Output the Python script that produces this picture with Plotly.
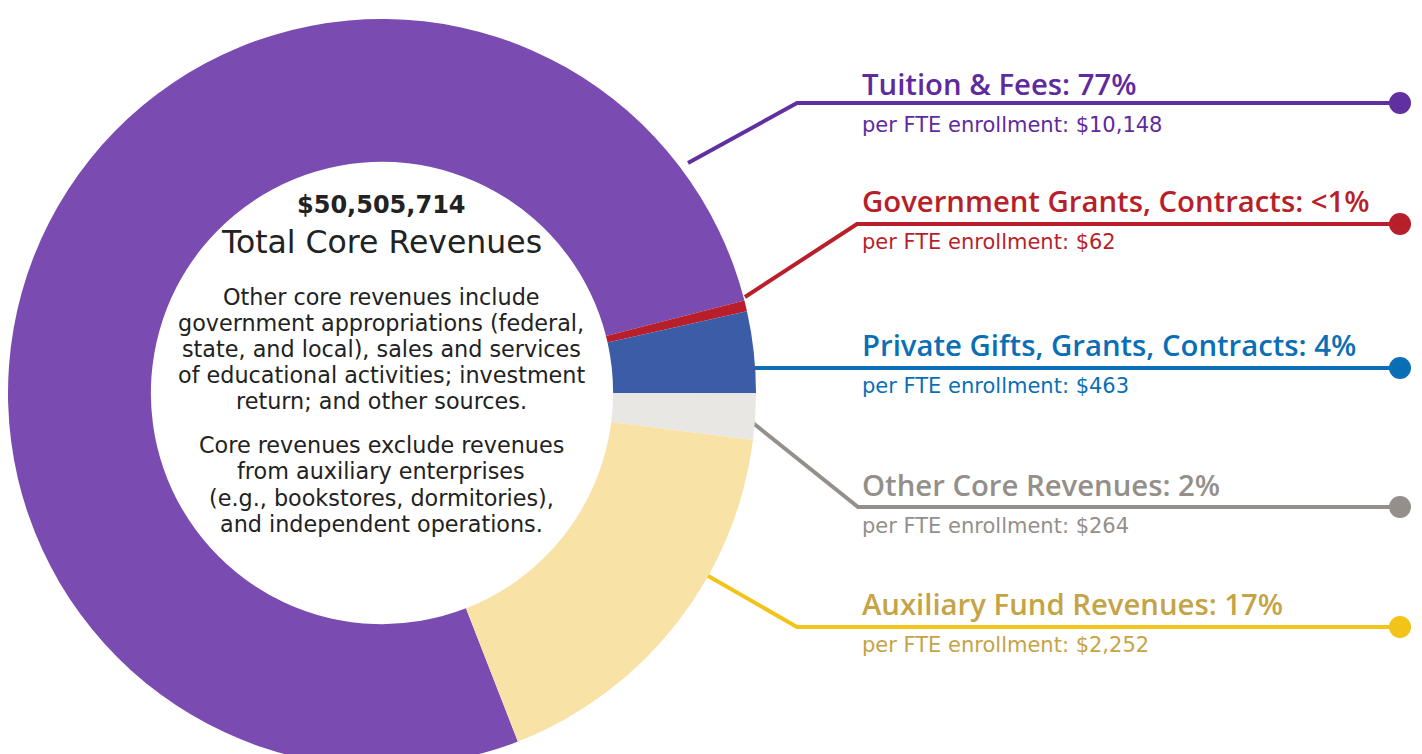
import plotly.graph_objects as go

# ---- data ----
categories = ["Tuition & Fees", "Government Grants, Contracts",
              "Private Gifts, Grants, Contracts", "Other Core Revenues",
              "Auxiliary Fund Revenues"]
per_fte = [10148, 62, 463, 264, 2252]
total_core = "$50,505,714"
para1 = ["Other core revenues include", "government appropriations (federal,",
         "state, and local), sales and services", "of educational activities; investment",
         "return; and other sources."]
para2 = ["Core revenues exclude revenues", "from auxiliary enterprises",
         "(e.g., bookstores, dormitories),", "and independent operations."]

slice_colors = ["#7a4bb0", "#b81f2b", "#3b5ca6", "#e9e7e4", "#f8e2a6"]
line_colors = ["#6030a0", "#b81f2b", "#0a6fb5", "#948f8a", "#f2c318"]
text_colors = ["#5f2a9e", "#b81f2b", "#0a6fb5", "#948f8a", "#c4a446"]

# leader line paths (layout positions, page pixel space)
leader_x = [[688, 797, 1400], [745, 857, 1400], [754, 1400], [753, 858, 1400], [703, 797, 1400]]
leader_y = [[163, 103, 103], [297, 224, 224], [368, 368], [423, 507, 507], [573, 627, 627]]
label_y = [84, 201, 345, 485, 604]

OFF = 8            # page body margin
W, H = 1422, 770
TITLE_FONT = "Open Sans"
BODY_FONT = "DejaVu Sans"

total = sum(per_fte)
pcts = []
for v in per_fte:
    p = v / total * 100
    pcts.append("<1%" if p < 1 else f"{round(p)}%")

fig = go.Figure()

fig.add_trace(go.Pie(
    values=per_fte, labels=categories, sort=False, direction="clockwise",
    rotation=158.7, hole=0.618, textinfo="none", hoverinfo="label+value",
    marker=dict(colors=slice_colors, line=dict(width=0)),
    domain=dict(x=[0, 748 / W], y=[0, 1]), showlegend=False,
))

for i in range(len(categories)):
    fig.add_trace(go.Scatter(
        x=leader_x[i], y=leader_y[i], mode="lines",
        line=dict(color=line_colors[i], width=4), hoverinfo="skip", showlegend=False,
    ))
    fig.add_trace(go.Scatter(
        x=[leader_x[i][-1]], y=[leader_y[i][-1]], mode="markers",
        marker=dict(color=line_colors[i], size=22), hoverinfo="skip", showlegend=False,
    ))

annotations = []
for i, cat in enumerate(categories):
    annotations.append(dict(
        x=860, y=label_y[i], xref="x", yref="y", xanchor="left", yanchor="middle",
        text=f"{cat}: {pcts[i]}", showarrow=False,
        font=dict(family=TITLE_FONT, size=29.3, color=text_colors[i], weight=600),
    ))
    annotations.append(dict(
        x=860, y=label_y[i] + 41, xref="x", yref="y", xanchor="left", yanchor="middle",
        text=f"per FTE enrollment: ${per_fte[i]:,}", showarrow=False,
        font=dict(family=BODY_FONT, size=21, color=text_colors[i]),
    ))

annotations += [
    dict(x=381, y=205, xref="x", yref="y", text=total_core, showarrow=False,
         font=dict(family=BODY_FONT, size=24, color="#222222", weight=700)),
    dict(x=381, y=242, xref="x", yref="y", text="Total Core Revenues", showarrow=False,
         font=dict(family=BODY_FONT, size=31.5, color="#222222")),
]
for j, line in enumerate(para1):
    annotations.append(dict(x=381, y=297 + 26 * j, xref="x", yref="y", text=line,
                            showarrow=False,
                            font=dict(family=BODY_FONT, size=22.3, color="#222222")))
for j, line in enumerate(para2):
    annotations.append(dict(x=381, y=445 + 26.3 * j, xref="x", yref="y", text=line,
                            showarrow=False,
                            font=dict(family=BODY_FONT, size=22.3, color="#222222")))

fig.update_layout(
    width=W, height=H, margin=dict(l=0, r=0, t=0, b=0),
    paper_bgcolor="white", plot_bgcolor="rgba(0,0,0,0)",
    xaxis=dict(range=[OFF, W + OFF], visible=False, fixedrange=True),
    yaxis=dict(range=[H + OFF, OFF], visible=False, fixedrange=True),
    annotations=annotations, showlegend=False,
)

fig.write_html("out.html")
